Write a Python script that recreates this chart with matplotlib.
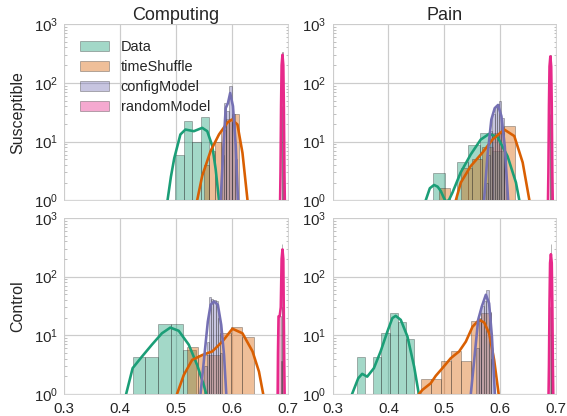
import numpy as np
import matplotlib
matplotlib.use('Agg')
import matplotlib.pyplot as plt
import seaborn as sns

sns.set_style('whitegrid')
plt.rcParams['font.family'] = ['Liberation Sans', 'DejaVu Sans']
plt.rcParams['mathtext.fontset'] = 'custom'
plt.rcParams['mathtext.rm'] = 'Liberation Sans'
plt.rcParams['mathtext.it'] = 'Liberation Sans:italic'

models = ['Data', 'timeShuffle', 'configModel', 'randomModel']
colors = ['#1b9e77', '#d95f02', '#7570b3', '#e7298a']
columns = ['Computing', 'Pain']
rows = ['Susceptible', 'Control']

# ---------------- Computing / Susceptible ----------------
cs_data_edges = [0.499, 0.514, 0.529, 0.544, 0.559]
cs_data_counts = [6, 22, 10, 26]
cs_data_kde_x = [0.478, 0.485, 0.491, 0.497, 0.508, 0.517, 0.532, 0.547, 0.556, 0.565, 0.571, 0.577, 0.584]
cs_data_kde_y = [0.3, 1.0, 2.5, 5.2, 13.2, 16, 15, 17.1, 15, 8.4, 3.4, 1.0, 0.3]

cs_ts_edges = [0.550, 0.560, 0.570, 0.580, 0.590, 0.600, 0.613]
cs_ts_counts = [4, 7, 10, 16, 24, 30]
cs_ts_kde_x = [0.532, 0.538, 0.547, 0.562, 0.577, 0.592, 0.600, 0.610, 0.619, 0.628, 0.634]
cs_ts_kde_y = [0.4, 1, 2.6, 6.9, 13.2, 21, 23.7, 19.5, 6.4, 1, 0.3]

cs_cm_edges = [0.582, 0.586, 0.590, 0.595, 0.600, 0.605, 0.609]
cs_cm_counts = [6, 45, 33, 87, 30, 5]
cs_cm_kde_x = [0.577, 0.580, 0.585, 0.589, 0.593, 0.597, 0.602, 0.607, 0.611, 0.614]
cs_cm_kde_y = [0.3, 1, 8.4, 37, 45, 67, 40, 8.4, 1, 0.3]

cs_rm_edges = [0.6895, 0.6905, 0.6915, 0.6925]
cs_rm_counts = [40, 330, 60]
cs_rm_kde_x = [0.6855, 0.6870, 0.6880, 0.6890, 0.6905, 0.6920, 0.6930, 0.6940, 0.6955]
cs_rm_kde_y = [0.3, 3, 40, 200, 300, 200, 40, 3, 0.3]

# ---------------- Pain / Susceptible ----------------
ps_data_edges = [0.480, 0.501, 0.522, 0.543, 0.564, 0.585, 0.606]
ps_data_counts = [2.9, 0, 4.4, 8.6, 14, 7]
ps_data_kde_x = [0.460, 0.4667, 0.474, 0.4815, 0.488, 0.4935, 0.499, 0.5025, 0.508, 0.5145,
                 0.529, 0.547, 0.565, 0.580, 0.595, 0.613, 0.628, 0.634, 0.640]
ps_data_kde_y = [0.4, 1.0, 1.6, 1.82, 1.7, 1.44, 1.1, 0.95, 1.0, 1.35,
                 2.95, 6.0, 10.8, 13.5, 12.0, 5.6, 2.0, 1.0, 0.4]

ps_ts_edges = [0.491, 0.510, 0.529, 0.549, 0.568, 0.587, 0.606, 0.626]
ps_ts_counts = [1.6, 0, 3.5, 5, 8, 14, 18.7]
ps_ts_kde_x = [0.514, 0.5205, 0.5294, 0.547, 0.568, 0.586, 0.607, 0.625, 0.640, 0.652, 0.658]
ps_ts_kde_y = [0.4, 1.0, 2.0, 3.8, 6.45, 10.8, 16, 12.4, 4.4, 1.0, 0.4]

ps_cm_edges = [0.574, 0.578, 0.582, 0.586, 0.590, 0.594, 0.598, 0.602, 0.606, 0.610]
ps_cm_counts = [2, 6, 15, 30, 39, 44, 50, 25, 6]
ps_cm_kde_x = [0.568, 0.571, 0.577, 0.584, 0.590, 0.596, 0.602, 0.608, 0.614, 0.617]
ps_cm_kde_y = [0.3, 1, 5.6, 23.7, 37, 42, 27, 8.3, 1, 0.3]

ps_rm_edges = [0.6885, 0.6895, 0.6905, 0.6915]
ps_rm_counts = [30, 300, 50]
ps_rm_kde_x = [0.6845, 0.6860, 0.6870, 0.6880, 0.6895, 0.6910, 0.6920, 0.6930, 0.6945]
ps_rm_kde_y = [0.3, 3, 40, 190, 282, 190, 40, 3, 0.3]

# ---------------- Computing / Control ----------------
cc_data_edges = [0.423, 0.4455, 0.468, 0.4905, 0.513, 0.5355]
cc_data_counts = [4.2, 4.2, 15.5, 15.5, 5.6]
cc_data_kde_x = [0.405, 0.411, 0.4226, 0.439, 0.457, 0.475, 0.490, 0.505, 0.523, 0.538, 0.550, 0.554, 0.560]
cc_data_kde_y = [0.4, 1, 2.75, 4.3, 6.9, 10.8, 13.5, 11.9, 6.9, 3.1, 1.4, 1.0, 0.4]

cc_ts_edges = [0.519, 0.539, 0.559, 0.579, 0.599, 0.619, 0.639]
cc_ts_counts = [6.3, 4.6, 4.6, 10.8, 13.7, 9.3]
cc_ts_kde_x = [0.497, 0.502, 0.514, 0.529, 0.547, 0.565, 0.583, 0.601, 0.619, 0.637, 0.6485, 0.656, 0.660]
cc_ts_kde_y = [0.4, 1, 2.1, 3.8, 4.6, 5.3, 7.8, 12.9, 10.8, 5.3, 2.4, 1, 0.5]

cc_cm_edges = [0.551, 0.555, 0.559, 0.563, 0.567, 0.571, 0.575, 0.579, 0.583]
cc_cm_counts = [3, 7.8, 45, 42, 40, 38, 20, 5]
cc_cm_kde_x = [0.540, 0.544, 0.551, 0.557, 0.562, 0.568, 0.575, 0.581, 0.586, 0.590, 0.594]
cc_cm_kde_y = [0.3, 1, 4.6, 17, 33, 37.6, 33, 15, 4.6, 1, 0.3]

cc_rm_edges = [0.683, 0.687, 0.689, 0.6905, 0.692]
cc_rm_counts = [21, 3.6, 357, 30]
cc_rm_kde_x = [0.6815, 0.6825, 0.6835, 0.6855, 0.6875, 0.6890, 0.6905, 0.6920, 0.6935, 0.6950]
cc_rm_kde_y = [0.3, 5, 21, 21, 30, 200, 290, 200, 5, 0.3]

# ---------------- Pain / Control ----------------
pc_data_edges = [0.344, 0.3585, 0.373, 0.3875, 0.402, 0.4165, 0.431, 0.4455]
pc_data_counts = [4.3, 0, 4.3, 11, 23.8, 17, 8.7]
pc_data_kde_x = [0.330, 0.335, 0.346, 0.353, 0.362, 0.374, 0.386, 0.398, 0.407, 0.413,
                 0.422, 0.434, 0.446, 0.4535, 0.458]
pc_data_kde_y = [0.4, 1, 1.85, 2.2, 1.97, 2.75, 5.3, 11.5, 19.6, 21.4,
                 18.3, 9.5, 2.9, 1.1, 0.4]

pc_ts_edges = [0.4577, 0.4757, 0.4937, 0.5117, 0.5297, 0.5477, 0.5657, 0.5837]
pc_ts_counts = [1.8, 1.8, 3.6, 5.4, 3.6, 17.6, 24]
pc_ts_kde_x = [0.449, 0.4547, 0.4606, 0.4756, 0.4845, 0.4965, 0.5115, 0.5264, 0.5384, 0.5504,
               0.5622, 0.5712, 0.580, 0.589, 0.597, 0.602]
pc_ts_kde_y = [0.4, 1, 1.17, 1.52, 2.03, 2.75, 4.07, 5.3, 7.8, 14,
               18.3, 16.5, 10.8, 3.8, 1, 0.4]

pc_cm_edges = [0.557, 0.5615, 0.566, 0.5705, 0.575, 0.5795, 0.584, 0.5885]
pc_cm_counts = [6, 20, 32, 38, 60, 25, 4]
pc_cm_kde_x = [0.543, 0.5473, 0.5545, 0.5604, 0.567, 0.5742, 0.580, 0.585, 0.5903, 0.594]
pc_cm_kde_y = [0.3, 1, 4.9, 18.3, 31, 49, 35, 9.5, 1, 0.3]

pc_rm_edges = [0.6895, 0.6905, 0.6915, 0.6925]
pc_rm_counts = [30, 357, 40]
pc_rm_kde_x = [0.6855, 0.6870, 0.6880, 0.6890, 0.6905, 0.6920, 0.6930, 0.6940, 0.6955]
pc_rm_kde_y = [0.3, 3, 35, 170, 240, 170, 35, 3, 0.3]

panels = [
    [  # Susceptible
        [(cs_data_edges, cs_data_counts, cs_data_kde_x, cs_data_kde_y),
         (cs_ts_edges, cs_ts_counts, cs_ts_kde_x, cs_ts_kde_y),
         (cs_cm_edges, cs_cm_counts, cs_cm_kde_x, cs_cm_kde_y),
         (cs_rm_edges, cs_rm_counts, cs_rm_kde_x, cs_rm_kde_y)],
        [(ps_data_edges, ps_data_counts, ps_data_kde_x, ps_data_kde_y),
         (ps_ts_edges, ps_ts_counts, ps_ts_kde_x, ps_ts_kde_y),
         (ps_cm_edges, ps_cm_counts, ps_cm_kde_x, ps_cm_kde_y),
         (ps_rm_edges, ps_rm_counts, ps_rm_kde_x, ps_rm_kde_y)],
    ],
    [  # Control
        [(cc_data_edges, cc_data_counts, cc_data_kde_x, cc_data_kde_y),
         (cc_ts_edges, cc_ts_counts, cc_ts_kde_x, cc_ts_kde_y),
         (cc_cm_edges, cc_cm_counts, cc_cm_kde_x, cc_cm_kde_y),
         (cc_rm_edges, cc_rm_counts, cc_rm_kde_x, cc_rm_kde_y)],
        [(pc_data_edges, pc_data_counts, pc_data_kde_x, pc_data_kde_y),
         (pc_ts_edges, pc_ts_counts, pc_ts_kde_x, pc_ts_kde_y),
         (pc_cm_edges, pc_cm_counts, pc_cm_kde_x, pc_cm_kde_y),
         (pc_rm_edges, pc_rm_counts, pc_rm_kde_x, pc_rm_kde_y)],
    ],
]

fig, axes = plt.subplots(2, 2, figsize=(567 / 72, 416 / 72), dpi=72, sharex=True)
plt.subplots_adjust(left=0.113, right=0.981, bottom=0.053, top=0.942, wspace=0.2, hspace=0.1)

for r in range(2):
    for c in range(2):
        ax = axes[r, c]
        ax.set_yscale('log')
        handles = []
        for m, (edges, counts, kx, ky) in enumerate(panels[r][c]):
            edges = np.array(edges)
            b = ax.bar(edges[:-1], counts, width=np.diff(edges), align='edge',
                       color=colors[m], alpha=0.4, edgecolor='0.15', linewidth=0.8)
            handles.append(b)
            ax.plot(kx, ky, color=colors[m], lw=2.6)
        ax.set_xlim(0.3, 0.7)
        ax.set_ylim(1, 1000)
        ax.set_xticks([0.3, 0.4, 0.5, 0.6, 0.7])
        ax.set_xticklabels(['0.3', '0.4', '0.5', '0.6', '0.7'])
        ax.tick_params(axis='both', which='major', labelsize=15, length=0, pad=6)
        ax.tick_params(axis='x', which='major', pad=8)
        ax.tick_params(axis='y', which='minor', direction='in', left=True, right=True,
                       length=2.5, width=0.6, color='0.6')
        ax.grid(True, which='major', color='0.8', lw=1.2)
        ax.grid(False, which='minor')
        for s in ax.spines.values():
            s.set_color('0.8')
        if r == 0:
            ax.set_title(columns[c], fontsize=18, pad=4)
        if c == 0:
            ax.set_ylabel(rows[r], fontsize=16, labelpad=9)
        if r == 0 and c == 0:
            ax.legend(handles, models, loc='upper left', frameon=False, fontsize=14.5,
                      handlelength=2.0, labelspacing=0.42, borderaxespad=0.7)

fig.savefig('out.png', dpi=72)
